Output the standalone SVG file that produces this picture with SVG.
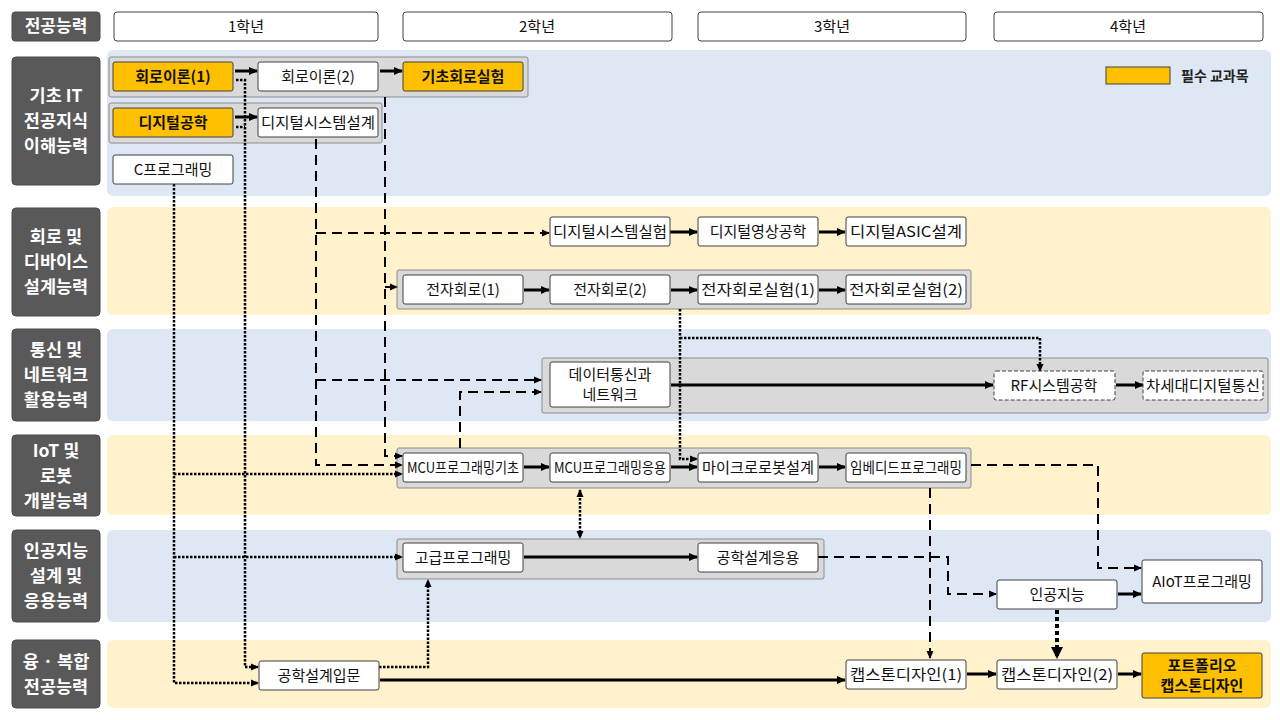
<svg xmlns="http://www.w3.org/2000/svg" width="1280" height="720" viewBox="0 0 1280 720">
<defs>
<style>
.bandB{fill:#DEE8F4}
.bandY{fill:#FFF2CC}
.lab{fill:#595959;stroke:#4a4a4a;stroke-width:1}
.labt{font-family:"Noto Sans CJK KR","Noto Sans",sans-serif;font-size:17.5px;font-weight:bold;fill:#ffffff;text-anchor:middle}
.yr{fill:#ffffff;stroke:#404040;stroke-width:1}
.yrt{font-family:"Noto Sans CJK KR","Noto Sans",sans-serif;font-size:15px;fill:#111;text-anchor:middle}
.grp{fill:#D9D9D9;stroke:#8C8C8C;stroke-width:1}
.bx{fill:#ffffff;stroke:#404040;stroke-width:1}
.bxo{fill:#FFC000;stroke:#404040;stroke-width:1}
.bxd{fill:#ffffff;stroke:#404040;stroke-width:1;stroke-dasharray:4 2}
.t{font-family:"Noto Sans CJK KR","Noto Sans",sans-serif;font-size:15px;fill:#111;text-anchor:middle}
.tb{font-family:"Noto Sans CJK KR","Noto Sans",sans-serif;font-size:15px;font-weight:bold;fill:#111;text-anchor:middle}
.sol{fill:none;stroke:#000;stroke-width:3}
.das{fill:none;stroke:#000;stroke-width:2;stroke-dasharray:10 6}
.dot{fill:none;stroke:#000;stroke-width:2.5;stroke-dasharray:2.5 1.5}
.dotk{fill:none;stroke:#000;stroke-width:4;stroke-dasharray:4 3}
</style>
<marker id="ah" markerUnits="userSpaceOnUse" markerWidth="9" markerHeight="8" refX="8" refY="4" orient="auto">
<path d="M0,0 L9,4 L0,8 Z" fill="#000"/>
</marker>
<marker id="ahs" markerUnits="userSpaceOnUse" markerWidth="8" markerHeight="8" refX="7" refY="4" orient="auto">
<path d="M0,0.5 L8,4 L0,7.5 Z" fill="#000"/>
</marker>
<marker id="ahst" markerUnits="userSpaceOnUse" markerWidth="8" markerHeight="8" refX="1" refY="4" orient="auto">
<path d="M8,0.5 L0,4 L8,7.5 Z" fill="#000"/>
</marker>
<marker id="ahk" markerUnits="userSpaceOnUse" markerWidth="12" markerHeight="12" refX="11" refY="6" orient="auto">
<path d="M0,0 L12,6 L0,12 Z" fill="#000"/>
</marker>
</defs>

<!-- header -->
<g id="header">
<rect class="lab" x="12" y="12" width="88" height="29" rx="3"/>
<text class="labt" x="56" y="32" style="font-size:17px">전공능력</text>
<rect class="yr" x="114" y="12" width="264" height="29" rx="3"/>
<text class="yrt" x="246" y="31.5">1학년</text>
<rect class="yr" x="403" y="12" width="269" height="29" rx="3"/>
<text class="yrt" x="537" y="31.5">2학년</text>
<rect class="yr" x="698" y="12" width="268" height="29" rx="3"/>
<text class="yrt" x="832" y="31.5">3학년</text>
<rect class="yr" x="994" y="12" width="269" height="29" rx="3"/>
<text class="yrt" x="1128" y="31.5">4학년</text>
</g>

<!-- bands -->
<g id="bands">
<rect class="bandB" x="107" y="50" width="1164" height="146" rx="6"/>
<rect class="bandY" x="107" y="207" width="1164" height="108" rx="6"/>
<rect class="bandB" x="107" y="329" width="1164" height="92" rx="6"/>
<rect class="bandY" x="107" y="435" width="1164" height="80" rx="6"/>
<rect class="bandB" x="107" y="530" width="1164" height="92" rx="6"/>
<rect class="bandY" x="107" y="640" width="1164" height="68" rx="6"/>
</g>

<!-- row labels -->
<g id="label-1"><rect class="lab" x="12" y="57" width="88" height="128" rx="4"/>
<text class="labt" x="56" y="102">기초 IT</text><text class="labt" x="56" y="127">전공지식</text><text class="labt" x="56" y="152">이해능력</text></g>
<g id="label-2"><rect class="lab" x="12" y="208" width="88" height="108" rx="4"/>
<text class="labt" x="56" y="243">회로 및</text><text class="labt" x="56" y="268">디바이스</text><text class="labt" x="56" y="293">설계능력</text></g>
<g id="label-3"><rect class="lab" x="12" y="329" width="88" height="92" rx="4"/>
<text class="labt" x="56" y="356">통신 및</text><text class="labt" x="56" y="381">네트워크</text><text class="labt" x="56" y="406">활용능력</text></g>
<g id="label-4"><rect class="lab" x="12" y="435" width="88" height="81" rx="4"/>
<text class="labt" x="56" y="456.5">IoT 및</text><text class="labt" x="56" y="481.5">로봇</text><text class="labt" x="56" y="506.5">개발능력</text></g>
<g id="label-5"><rect class="lab" x="12" y="530" width="88" height="92" rx="4"/>
<text class="labt" x="56" y="557">인공지능</text><text class="labt" x="56" y="582">설계 및</text><text class="labt" x="56" y="607">응용능력</text></g>
<g id="label-6"><rect class="lab" x="12" y="640" width="88" height="68" rx="4"/>
<text class="labt" x="56" y="667.5">융 · 복합</text><text class="labt" x="56" y="692.5">전공능력</text></g>

<!-- groups -->
<g id="groups">
<rect class="grp" x="109" y="57" width="419" height="40" rx="2"/>
<rect class="grp" x="109" y="103" width="273" height="40" rx="2"/>
<rect class="grp" x="397" y="270" width="574" height="39" rx="2"/>
<rect class="grp" x="542" y="358" width="726" height="55" rx="2"/>
<rect class="grp" x="397" y="448" width="574" height="40" rx="2"/>
<rect class="grp" x="397" y="539" width="427" height="40" rx="2"/>
</g>

<!-- legend -->
<g id="legend">
<rect class="bxo" x="1106" y="67" width="64" height="17"/>
<text x="1181" y="81" style="font-family:'Noto Sans CJK KR',sans-serif;font-size:14px;font-weight:bold;fill:#222">필수 교과목</text>
</g>

<!-- connectors -->
<g id="connectors">
<!-- dashed -->
<path class="das" d="M316,139 V465 H402" marker-end="url(#ahs)"/>
<path class="das" d="M316,233 H549" marker-end="url(#ahs)"/>
<path class="das" d="M316,380 H541" marker-end="url(#ahs)"/>
<path class="das" d="M385,97 V456 H402" marker-end="url(#ahs)"/>
<path class="das" d="M385,287 H397" marker-end="url(#ahs)"/>
<path class="das" d="M460,448 V392 H541" marker-end="url(#ahs)"/>
<path class="das" d="M971,465 H1098 V568 H1141" marker-end="url(#ahs)"/>
<path class="das" d="M930,488 V658" marker-end="url(#ahs)"/>
<path class="das" d="M818,557 H948 V594 H996" marker-end="url(#ahs)"/>
<!-- dotted -->
<path class="dot" d="M236,80 H245 V667 H258" marker-end="url(#ahs)"/>
<path class="dot" d="M236,127 H245"/>
<path class="dot" d="M174,184 V683 H258" marker-end="url(#ahs)"/>
<path class="dot" d="M174,474 H402" marker-end="url(#ahs)"/>
<path class="dot" d="M174,557 H402" marker-end="url(#ahs)"/>
<path class="dot" d="M680,309 V459 H697" marker-end="url(#ahs)"/>
<path class="dot" d="M680,338 H1040 V371" marker-end="url(#ahs)"/>
<path class="dot" d="M580,490 V538" marker-start="url(#ahst)" marker-end="url(#ahs)"/>
<path class="dot" d="M379,667 H428 V580" marker-end="url(#ahs)"/>
<path class="dotk" d="M1057,610 V658" marker-end="url(#ahk)"/>
<!-- solid -->
<path class="sol" d="M235,71 H257" marker-end="url(#ah)"/>
<path class="sol" d="M380,71 H402" marker-end="url(#ah)"/>
<path class="sol" d="M235,117 H257" marker-end="url(#ah)"/>
<path class="sol" d="M670,232 H697" marker-end="url(#ah)"/>
<path class="sol" d="M819,232 H845" marker-end="url(#ah)"/>
<path class="sol" d="M524,290 H549" marker-end="url(#ah)"/>
<path class="sol" d="M671,290 H697" marker-end="url(#ah)"/>
<path class="sol" d="M819,290 H845" marker-end="url(#ah)"/>
<path class="sol" d="M671,385 H993" marker-end="url(#ah)"/>
<path class="sol" d="M1116,385 H1143" marker-end="url(#ah)"/>
<path class="sol" d="M524,467 H549" marker-end="url(#ah)"/>
<path class="sol" d="M671,467 H697" marker-end="url(#ah)"/>
<path class="sol" d="M819,467 H845" marker-end="url(#ah)"/>
<path class="sol" d="M524,557 H697" marker-end="url(#ah)"/>
<path class="sol" d="M1118,594 H1141" marker-end="url(#ah)"/>
<path class="sol" d="M380,680 H845" marker-end="url(#ah)"/>
<path class="sol" d="M967,674 H996" marker-end="url(#ah)"/>
<path class="sol" d="M1118,674 H1141" marker-end="url(#ah)"/>
</g>

<!-- nodes -->
<g id="n-circuit1"><rect class="bxo" x="113" y="62" width="120" height="29" rx="2"/><text class="tb" x="173" y="82">회로이론(1)</text></g>
<g id="n-circuit2"><rect class="bx" x="258" y="62" width="120" height="29" rx="2"/><text class="t" x="318" y="82">회로이론(2)</text></g>
<g id="n-basiclab"><rect class="bxo" x="403" y="62" width="120" height="29" rx="2"/><text class="tb" x="463" y="82">기초회로실험</text></g>
<g id="n-digital"><rect class="bxo" x="113" y="108" width="120" height="29" rx="2"/><text class="tb" x="173" y="128">디지털공학</text></g>
<g id="n-digsys"><rect class="bx" x="258" y="108" width="120" height="29" rx="2"/><text class="t" x="318" y="128" textLength="114" lengthAdjust="spacingAndGlyphs">디지털시스템설계</text></g>
<g id="n-cprog"><rect class="bx" x="113" y="155" width="120" height="29" rx="2"/><text class="t" x="173" y="175">C프로그래밍</text></g>

<g id="n-digsyslab"><rect class="bx" x="550" y="217" width="120" height="29" rx="2"/><text class="t" x="610" y="237" textLength="114" lengthAdjust="spacingAndGlyphs">디지털시스템실험</text></g>
<g id="n-digimg"><rect class="bx" x="698" y="217" width="120" height="29" rx="2"/><text class="t" x="758" y="237">디지털영상공학</text></g>
<g id="n-asic"><rect class="bx" x="846" y="217" width="120" height="29" rx="2"/><text class="t" x="906" y="237" textLength="112" lengthAdjust="spacingAndGlyphs">디지털ASIC설계</text></g>
<g id="n-elec1"><rect class="bx" x="403" y="275" width="120" height="29" rx="2"/><text class="t" x="463" y="295">전자회로(1)</text></g>
<g id="n-elec2"><rect class="bx" x="550" y="275" width="120" height="29" rx="2"/><text class="t" x="610" y="295">전자회로(2)</text></g>
<g id="n-eleclab1"><rect class="bx" x="698" y="275" width="120" height="29" rx="2"/><text class="t" x="758" y="295" textLength="114" lengthAdjust="spacingAndGlyphs">전자회로실험(1)</text></g>
<g id="n-eleclab2"><rect class="bx" x="846" y="275" width="120" height="29" rx="2"/><text class="t" x="906" y="295" textLength="114" lengthAdjust="spacingAndGlyphs">전자회로실험(2)</text></g>

<g id="n-datacom"><rect class="bx" x="550" y="362" width="120" height="45" rx="2"/><text class="t" x="610" y="380">데이터통신과</text><text class="t" x="610" y="400">네트워크</text></g>
<g id="n-rf"><rect class="bxd" x="994" y="371" width="121" height="29" rx="2"/><text class="t" x="1054" y="391">RF시스템공학</text></g>
<g id="n-nextgen"><rect class="bxd" x="1143" y="371" width="120" height="29" rx="2"/><text class="t" x="1203" y="391" textLength="114" lengthAdjust="spacingAndGlyphs">차세대디지털통신</text></g>

<g id="n-mcu1"><rect class="bx" x="403" y="453" width="120" height="29" rx="2"/><text class="t" x="463" y="473" textLength="112" lengthAdjust="spacingAndGlyphs">MCU프로그래밍기초</text></g>
<g id="n-mcu2"><rect class="bx" x="550" y="453" width="120" height="29" rx="2"/><text class="t" x="610" y="473" textLength="112" lengthAdjust="spacingAndGlyphs">MCU프로그래밍응용</text></g>
<g id="n-robot"><rect class="bx" x="698" y="453" width="120" height="29" rx="2"/><text class="t" x="758" y="473" textLength="112" lengthAdjust="spacingAndGlyphs">마이크로로봇설계</text></g>
<g id="n-embedded"><rect class="bx" x="846" y="453" width="120" height="29" rx="2"/><text class="t" x="906" y="473" textLength="112" lengthAdjust="spacingAndGlyphs">임베디드프로그래밍</text></g>

<g id="n-advprog"><rect class="bx" x="403" y="543" width="120" height="29" rx="2"/><text class="t" x="463" y="563">고급프로그래밍</text></g>
<g id="n-engapp"><rect class="bx" x="698" y="543" width="120" height="29" rx="2"/><text class="t" x="758" y="563">공학설계응용</text></g>
<g id="n-ai"><rect class="bx" x="997" y="580" width="120" height="29" rx="2"/><text class="t" x="1057" y="600">인공지능</text></g>
<g id="n-aiot"><rect class="bx" x="1142" y="560" width="120" height="43" rx="2"/><text class="t" x="1202" y="587">AIoT프로그래밍</text></g>

<g id="n-engintro"><rect class="bx" x="259" y="661" width="120" height="29" rx="2"/><text class="t" x="319" y="681">공학설계입문</text></g>
<g id="n-cap1"><rect class="bx" x="846" y="660" width="120" height="29" rx="2"/><text class="t" x="906" y="680" textLength="112" lengthAdjust="spacingAndGlyphs">캡스톤디자인(1)</text></g>
<g id="n-cap2"><rect class="bx" x="997" y="660" width="120" height="29" rx="2"/><text class="t" x="1057" y="680" textLength="112" lengthAdjust="spacingAndGlyphs">캡스톤디자인(2)</text></g>
<g id="n-portfolio"><rect class="bxo" x="1142" y="653" width="120" height="45" rx="2"/><text class="tb" x="1202" y="671">포트폴리오</text><text class="tb" x="1202" y="691">캡스톤디자인</text></g>
</svg>
